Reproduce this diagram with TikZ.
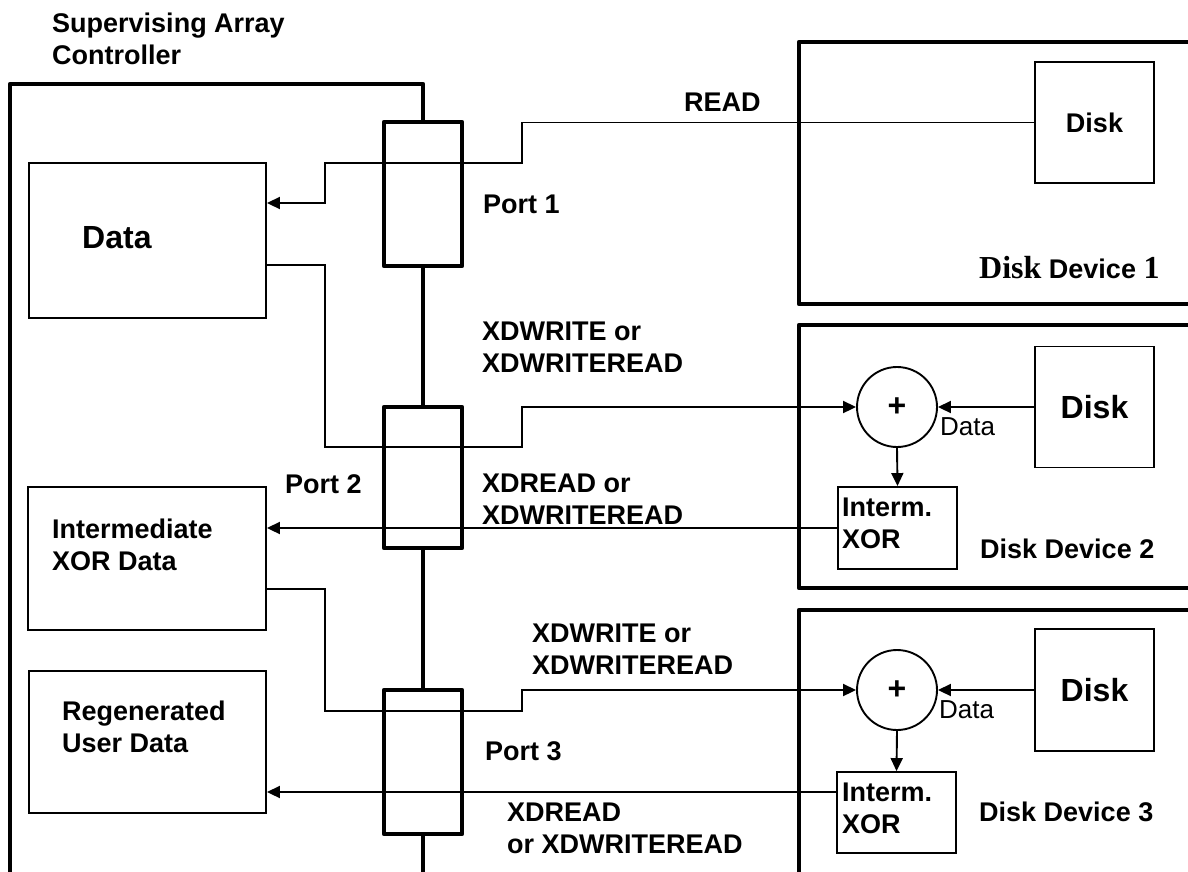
\documentclass[tikz,border=0pt]{standalone}
\usepackage{fontspec}
\setmainfont{Liberation Sans}
\newfontfamily\devserif{Liberation Serif}
\usetikzlibrary{arrows.meta}
\tikzset{
  frame/.style ={draw, line width=4.5pt, line join=round, inner sep=0pt},
  port/.style  ={draw, line width=4.5pt, line join=round, fill=white, inner sep=0pt, minimum width=78pt},
  box/.style   ={draw, line width=1.9pt, inner sep=0pt},
  xorop/.style ={circle, draw, line width=1.9pt, inner sep=0pt, minimum size=80pt, font=\fontsize{32}{32}\selectfont\bfseries},
  lbl/.style   ={inner sep=0pt, font=\fontsize{27}{32}\selectfont\bfseries},
  lblml/.style ={lbl, align=left},
  big/.style   ={inner sep=0pt, font=\fontsize{32}{32}\selectfont\bfseries},
  small/.style ={inner sep=0pt, font=\fontsize{26}{26}\selectfont},
  wire/.style  ={line width=1.9pt},
  arr/.style   ={wire, -{Triangle[length=13pt,width=12pt]}},
}

\begin{document}
\begin{tikzpicture}[x=1pt, y=-1pt]
  \useasboundingbox (0,0) rectangle (1188,871);
  \clip (0,0) rectangle (1188,871);

  % ---- controller (right edge is the bus) and the three disk devices ----
  \node[frame, minimum width=413pt, minimum height=816pt] (ctrl) at (216.5,492) {};
  \node[frame, minimum width=421pt, minimum height=262pt] (dev1) at (1009.5,173) {};
  \node[frame, minimum width=421pt, minimum height=263pt] (dev2) at (1009.5,456.5) {};
  \node[frame, minimum width=421pt, minimum height=290pt] (dev3) at (1009.5,755) {};

  % ---- ports on the bus ----
  \node[port, minimum height=144pt] (port1) at (423,194) {};
  \node[port, minimum height=141pt] (port2) at (423,477.5) {};
  \node[port, minimum height=144pt] (port3) at (423,762) {};

  % ---- controller buffers ----
  \node[box, minimum width=237pt, minimum height=155pt] (data)  at (147.5,240.5) {};
  \node[box, minimum width=238pt, minimum height=143pt] (inter) at (147,558.5) {};
  \node[box, minimum width=237pt, minimum height=142pt] (regen) at (147.5,742) {};

  % ---- inside the disk devices ----
  \node[box, minimum width=119pt, minimum height=121pt, font=\fontsize{27}{27}\selectfont\bfseries] (disk1) at (1094.5,122.5) {Disk};
  \node[box, minimum width=119pt, minimum height=121pt, font=\fontsize{32}{32}\selectfont\bfseries] (disk2) at (1094.5,407) {Disk};
  \node[box, minimum width=119pt, minimum height=122pt, font=\fontsize{32}{32}\selectfont\bfseries] (disk3) at (1094.5,690) {Disk};
  \node[xorop] (sum2) at (897,407) {+};
  \node[xorop] (sum3) at (897,690) {+};
  \node[box, minimum width=119pt, minimum height=82pt] (ixor2) at (897.5,528) {};
  \node[box, minimum width=119pt, minimum height=81pt] (ixor3) at (896.5,812.5) {};

  % ---- connectors ----
  \draw[arr] (disk1.west) -| (522,163) -| (325,203) -- (data.east |- 0,203);
  \draw[arr] (data.east |- 0,265) -| (325,447) -| (522,407) -- (sum2.west);
  \draw[arr] (disk2.west) -- (sum2.east);
  \draw[arr] (sum2.south) -- (ixor2.north);
  \draw[arr] (ixor2.west) -- (inter.east |- ixor2.west);
  \draw[arr] (inter.east |- 0,589) -| (325,711) -| (522,690) -- (sum3.west);
  \draw[arr] (disk3.west) -- (sum3.east);
  \draw[arr] (sum3.south) -- (ixor3.north);
  \draw[arr] (ixor3.west |- 0,792) -- (regen.east |- 0,792);

  % ---- labels ----
  \node[lblml, anchor=north west] (ctrltxt) at (52,13) {Supervising Array\\Controller};
  \node[big, anchor=base west] (datatxt) at (82,248) {Data};
  \node[lblml, anchor=north west] (intertxt) at (52,519) {Intermediate\\XOR Data};
  \node[lblml, anchor=north west] (regentxt) at (62,701) {Regenerated\\User Data};
  \node[lbl, anchor=base west] (p1txt) at (483,213) {Port 1};
  \node[lbl, anchor=base west] (p2txt) at (285,493) {Port 2};
  \node[lbl, anchor=base west] (p3txt) at (485,760) {Port 3};
  \node[lbl, anchor=base west] (readtxt) at (684,111) {READ};
  \node[lblml, anchor=north west] (wr2txt) at (482,322) {XDWRITE or\\XDWRITEREAD};
  \node[lblml, anchor=north west] (rd2txt) at (482,474) {XDREAD or\\XDWRITEREAD};
  \node[lblml, anchor=north west] (wr3txt) at (532,624) {XDWRITE or\\XDWRITEREAD};
  \node[lblml, anchor=north west] (rd3txt) at (507,803) {XDREAD\\or XDWRITEREAD};
  \node[small, anchor=base west] (d2txt) at (940,435) {Data};
  \node[small, anchor=base west] (d3txt) at (939,718) {Data};
  \node[lblml, anchor=north west] (ix2txt) at (842,498) {Interm.\\XOR};
  \node[lblml, anchor=north west] (ix3txt) at (842,783) {Interm.\\XOR};
  \node[lbl, anchor=base west] (dev1txt) at (979,278)
    {{\devserif\fontsize{32}{32}\selectfont Disk} Device {\devserif\fontsize{32}{32}\selectfont 1}};
  \node[lbl, anchor=base west] (dev2txt) at (980,558) {Disk Device 2};
  \node[lbl, anchor=base west] (dev3txt) at (979,821) {Disk Device 3};
\end{tikzpicture}
\end{document}
